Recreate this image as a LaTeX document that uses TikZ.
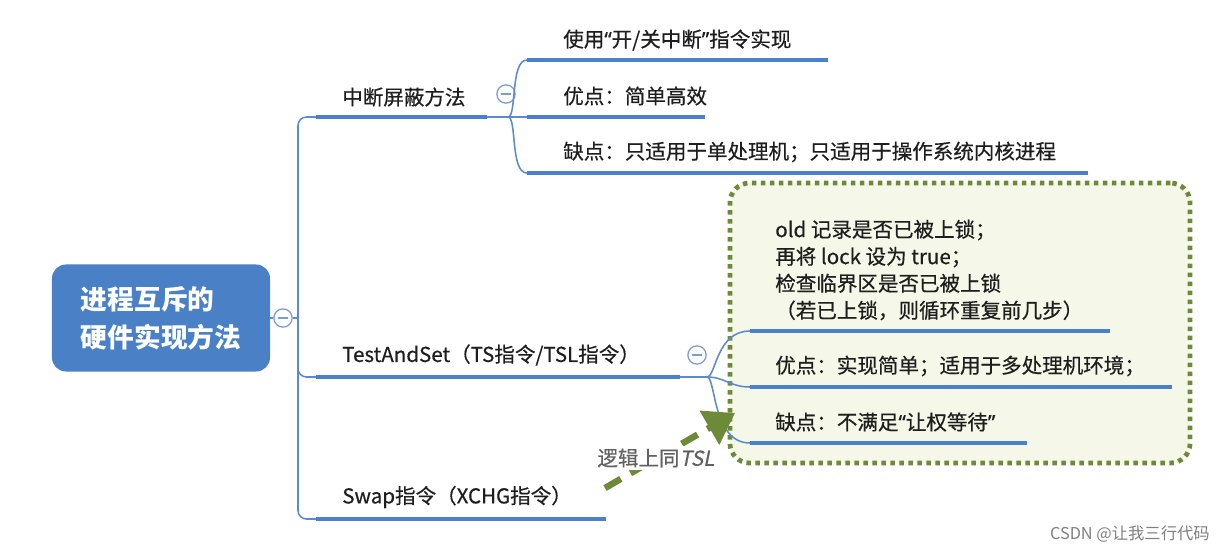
\documentclass[tikz,border=0pt]{standalone}
\usepackage{fontspec}
\setmainfont{Noto Sans CJK SC}[ItalicFont={Noto Sans CJK SC},ItalicFeatures={FakeSlant=0.2}]
\newfontfamily\heavyfont{Noto Sans CJK SC}[FakeBold=0.5,ItalicFont={Noto Sans CJK SC},ItalicFeatures={FakeSlant=0.2,FakeBold=0.5}]
\newfontfamily\quotefont{Noto Sans}[FakeBold=0.5]
\newcommand*{\oq}{{\quotefont “}}
\newcommand*{\cq}{{\quotefont ”}}
\usetikzlibrary{arrows.meta}
\definecolor{rootblue}{HTML}{4A80C6}
\definecolor{lineblue}{HTML}{4A80CC}
\definecolor{linkblue}{HTML}{5B8AD0}
\definecolor{foldblue}{HTML}{7C9AD6}
\definecolor{olive}{HTML}{6C8A38}
\definecolor{boxfill}{HTML}{F5F7E8}
\definecolor{inktext}{HTML}{1E1E1E}

\tikzset{
	txt/.style={inner sep=0pt, anchor=west, text=inktext, font=\heavyfont\fontsize{14.6}{19.2}\selectfont},
	uline/.style={line width=2.8pt, draw=lineblue},
	link/.style={line width=1.1pt, draw=linkblue},
	fold/.style={circle, draw=foldblue, line width=0.9pt, fill=white, minimum size=13pt, inner sep=0pt,
		path picture={\draw[foldblue, line width=0.9pt] ([xshift=-3.5pt]path picture bounding box.center) -- ([xshift=3.5pt]path picture bounding box.center);}},
	root/.style={rounded corners=10pt, fill=rootblue, text=white, minimum width=5.45cm, minimum height=2.675cm,
		align=left, font=\bfseries\fontsize{19}{27}\selectfont},
	tsbox/.style={rounded corners=14pt, fill=boxfill, draw=olive, line width=3.4pt,
		dash pattern=on 3.2pt off 3.2pt, minimum width=11.5cm, minimum height=7cm}
}

\begin{document}
\begin{tikzpicture}[x=0.025cm,y=-0.025cm]
	\useasboundingbox (0,0) rectangle (1225,554);
	\node[tsbox] (box) at (960,323) {};
	\node[root] (root) at (161,318) {进程互斥的\\硬件实现方法};
	\node[fold] (f0) at (283,318) {};
	\node[fold] (f1) at (506,94) {};
	\node[fold] (f2) at (697,355) {};
	% trunk
	\coordinate (tr) at (298,318);
	\coordinate (b1l) at (316,117);
	\coordinate (b1r) at (487,117);
	\coordinate (b2l) at (316,377);
	\coordinate (b2r) at (680,377);
	\coordinate (b3l) at (316,519);
	\coordinate (b3r) at (606,519);
	\draw[link] (root.east) -- (f0) -- (tr);
	\draw[link, rounded corners=6pt] (b1l) -| (tr) |- (b3l);
	\draw[link, rounded corners=6pt] (298,340) |- (b2l);
	\draw[uline] (b1l) -- (b1r);
	\draw[uline] (b2l) -- (b2r);
	\draw[uline] (b3l) -- (b3r);
	\node[txt] (b1) at (342,97) {中断屏蔽方法};
	\node[txt] (b2) at (342,355) {TestAndSet（TS指令/TSL指令）};
	\node[txt] (b3) at (342,497) {Swap指令（XCHG指令）};
	% branch 1
	\coordinate (j1) at (508,117);
	\coordinate (c1l) at (527,60);   \coordinate (c1r) at (828,60);
	\coordinate (c2l) at (527,117);  \coordinate (c2r) at (705,117);
	\coordinate (c3l) at (527,173);  \coordinate (c3r) at (1088,173);
	\draw[link] (b1r) -- (j1) -- (c2l);
	\draw[link] (j1) .. controls (517,117) and (510,60) .. (c1l);
	\draw[link] (j1) .. controls (517,117) and (510,173) .. (c3l);
	\draw[uline] (c1l) -- (c1r);
	\draw[uline] (c2l) -- (c2r);
	\draw[uline] (c3l) -- (c3r);
	\node[txt] (c1) at (563,40) {使用\oq 开/关中断\cq 指令实现};
	\node[txt] (c2) at (563,96) {优点：简单高效};
	\node[txt] (c3) at (563,152) {缺点：只适用于单处理机；只适用于操作系统内核进程};
	% branch 2
	\coordinate (j2) at (707,377);
	\coordinate (d1l) at (750,331);  \coordinate (d1r) at (1110,331);
	\coordinate (d2l) at (750,387);  \coordinate (d2r) at (1172,387);
	\coordinate (d3l) at (750,443);  \coordinate (d3r) at (1027,443);
	\draw[link] (b2r) -- (j2);
	\draw[link] (j2) .. controls (716,377) and (716,331) .. (d1l);
	\draw[link] (j2) .. controls (725,377) and (730,387) .. (d2l);
	\draw[link] (j2) .. controls (716,377) and (712,443) .. (d3l);
	\draw[uline] (d1l) -- (d1r);
	\draw[uline] (d2l) -- (d2r);
	\draw[uline] (d3l) -- (d3r);
	\node[txt, align=left] (d1) at (775,270) {old 记录是否已被上锁；\\再将 lock 设为 true；\\检查临界区是否已被上锁\\（若已上锁，则循环重复前几步）};
	\node[txt] (d2) at (775,366) {优点：实现简单；适用于多处理机环境；};
	\node[txt] (d3) at (775,422) {缺点：不满足\oq 让权等待\cq};
	% arrow
	\coordinate (as) at (605,488);
	\coordinate (ae) at (735,413);
	\draw[olive, line width=4.6pt, dash pattern=on 13pt off 8pt, -{Triangle[width=27pt, length=21pt]}] (as) -- (ae);
	\node[txt, text=black!62, fill=white, inner sep=1.5pt] (lbl) at (595,458) {逻辑上同\textit{TSL}};
	\node[anchor=east, inner sep=0pt, text=black!50, font=\fontsize{11.6}{14}\selectfont] (wm) at (1210,534) {CSDN @让我三行代码};
\end{tikzpicture}
\end{document}
